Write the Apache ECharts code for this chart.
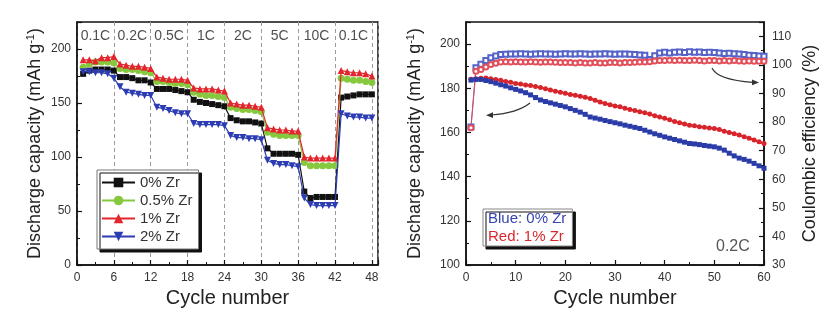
<!DOCTYPE html>
<html><head><meta charset="utf-8">
<script src="https://cdn.jsdelivr.net/npm/echarts@6/dist/echarts.min.js"></script>
<style>html,body{margin:0;padding:0;background:#fff}#c{width:834px;height:324px}</style>
</head><body><div id="c"></div>
<script>
const FONT = '"Liberation Sans", Arial, sans-serif';

// ---------- Left panel: rate capability ----------
const rateLabels = ['0.1C','0.2C','0.5C','1C','2C','5C','10C','0.1C'];
const rateLabelCycle = [3, 9, 15, 21, 27, 33, 39, 45];
const rateLabelLevel = 212;
const seriesNamesL = ['0% Zr', '0.5% Zr', '1% Zr', '2% Zr'];
const zr0 = [177,180,181,181,181,180, 174,174,173,171,171,169, 163,163,163,162,161,160,
             153,151,150,149,148,147, 136,134,133,133,132,131, 108,103,103,103,103,102,
             68,62,63,63,63,63, 155,156,157,158,158,158];
const zr05 = [183,186,188,188,188,187, 182,181,181,180,179,178, 170,170,169,168,168,167,
              160,158,157,157,156,155, 146,145,144,144,143,142, 123,121,120,120,120,120,
              95,92,92,92,92,92, 173,172,171,171,170,169];
const zr1 = [190,190,189,192,192,193, 186,185,184,184,183,182, 174,173,172,172,172,171,
             164,163,163,163,162,161, 150,149,148,148,147,146, 127,126,125,125,124,124,
             100,99,99,99,99,99, 180,179,178,178,177,175];
const zr2 = [179,179,178,178,177,173, 165,160,159,158,157,157, 146,145,143,141,140,140,
             131,130,130,130,130,129, 120,118,118,117,117,116, 97,94,93,93,92,91,
             62,56,55,55,55,55, 140,138,137,137,136,136];

// ---------- Right panel: cycling at 0.2C ----------
const capBlue = [183.7,184,184,183.5,183,182.3,181.6,181,180.2,179.5,178.8,178,177,175.8,174.7,174,173.4,172.8,172.2,171.6,
                 170.8,170,169.2,168.2,167,166.5,166,165.4,164.9,164.4,163.9,163.3,162.8,162.3,161.8,161,160.2,159.4,158.7,158,
                 157.4,156.8,156.2,155.6,155,154.8,154.5,154.1,153.8,153.5,152.9,152,150.6,149.4,148.4,147.8,147,146,144.9,143.8];
const capRed = [184.1,184.3,184.5,184.6,184.3,184,183.6,183.1,182.7,182.2,181.9,181.5,181.2,180.8,180.4,179.8,179.2,178.7,178.2,177.7,
                177.2,176.8,176.4,175.9,175.4,174.6,173.8,173.1,172.5,172,171.6,171,170.4,169.9,169.4,168.9,168.3,167.6,167,166.4,
                165.7,165,164.4,163.8,163.3,163,162.6,162.3,162,161.8,161.3,160.6,160,159.4,158.8,158.1,157.4,156.6,155.8,155];
const ceBlue = [78.3,99,100.2,101.5,102.5,103.1,103.6,103.7,103.8,103.8,103.9,103.8,103.7,103.8,103.9,103.8,103.8,103.7,103.8,103.9,
                103.8,103.8,103.9,103.8,103.7,103.8,103.8,103.9,103.8,103.7,103.8,103.8,103.7,103.6,103.5,103.4,101.9,103.2,104.2,104.4,
                104.2,104.4,104.5,104.3,104.6,104.4,104.5,104.3,104.4,104.3,104.2,104,104.1,103.9,103.8,103.6,103.4,103.3,103.1,103];
const ceRed = [78,97.8,98.4,99.3,100.1,100.6,101,101.1,101,101.1,101,101,101.1,101,100.9,101,101,100.9,100.8,100.8,
               100.8,100.7,100.8,100.7,100.7,100.8,100.7,100.7,100.8,100.8,100.7,100.8,100.8,100.9,101,101,101.1,101.4,101.5,101.5,
               101.6,101.5,101.6,101.5,101.5,101.6,101.5,101.4,101.5,101.5,101.4,101.5,101.4,101.5,101.4,101.3,101.4,101.3,101.3,101.3];

const colL = ['#111111', '#86c83e', '#e3262e', '#2c3db4'];
const symL = ['rect', 'circle', 'triangle', 'triangle'];
const rotL = [0, 0, 0, 180];
const sizeL = [6, 7, 7, 7];
const dataL = [zr0, zr05, zr1, zr2];

const BLUE = '#2b3ca8', RED = '#d8252b', BLUE_CE = '#5563c8', RED_CE = '#e24e5a';
const toXY = arr => arr.map((v, i) => [i + 1, v]);

const axisCommon = {
  axisLine: { show: true, onZero: false, lineStyle: { color: '#111', width: 1.5 } },
  axisTick: { show: true, inside: true, length: 5, lineStyle: { color: '#111', width: 1.2 } },
  minorTick: { show: true, splitNumber: 2, length: 3, lineStyle: { color: '#111', width: 1 } },
  axisLabel: { fontFamily: FONT, fontSize: 12, color: '#333', showMaxLabel: false },
  splitLine: { show: false },
  nameLocation: 'middle',
  nameTextStyle: { fontFamily: FONT, color: '#222', fontSize: 18 }
};
const yName = { a: { fontFamily: FONT, fontSize: 18, color: '#222' }, s: { fontFamily: FONT, fontSize: 11, color: '#222', verticalAlign: 'top', padding: [0, 0, 10, 0] } };

const series = [];
dataL.forEach((d, k) => series.push({
  name: seriesNamesL[k], type: 'line', xAxisIndex: 0, yAxisIndex: 0,
  data: toXY(d), symbol: symL[k], symbolRotate: rotL[k], symbolSize: sizeL[k],
  lineStyle: { color: colL[k], width: 1.2 }, itemStyle: { color: colL[k] }, z: 3 + k
}));
series.push({
  name: 'rates', type: 'scatter', xAxisIndex: 0, yAxisIndex: 0, symbolSize: 0, silent: true,
  data: rateLabels.map((t, i) => ({ name: t, value: [rateLabelCycle[i], rateLabelLevel] })),
  label: { show: true, position: 'inside', formatter: '{b}', fontFamily: FONT, fontSize: 14, color: '#222' }
});
series.push({
  name: 'CE 0% Zr', type: 'line', xAxisIndex: 1, yAxisIndex: 2, data: toXY(ceBlue),
  symbol: 'emptyRect', symbolSize: 5, lineStyle: { color: BLUE_CE, width: 1 }, itemStyle: { color: BLUE_CE, borderWidth: 1 }, z: 3
});
series.push({
  name: 'CE 1% Zr', type: 'line', xAxisIndex: 1, yAxisIndex: 2, data: toXY(ceRed),
  symbol: 'emptyCircle', symbolSize: 5, lineStyle: { color: RED_CE, width: 1 }, itemStyle: { color: RED_CE, borderWidth: 1 }, z: 3
});
series.push({
  name: 'Red: 1% Zr', type: 'line', xAxisIndex: 1, yAxisIndex: 1, data: toXY(capRed),
  symbol: 'circle', symbolSize: 5, lineStyle: { color: RED, width: 2 }, itemStyle: { color: RED }, z: 4
});
series.push({
  name: 'Blue: 0% Zr', type: 'line', xAxisIndex: 1, yAxisIndex: 1, data: toXY(capBlue),
  symbol: 'rect', symbolSize: 5, lineStyle: { color: BLUE, width: 2 }, itemStyle: { color: BLUE }, z: 4
});

const option = {
  animation: false,
  backgroundColor: '#fff',
  textStyle: { fontFamily: FONT },
  grid: [
    { left: 77, top: 22, width: 301, height: 243, show: true, borderColor: '#111', borderWidth: 1.5, backgroundColor: 'transparent' },
    { left: 466, top: 22, width: 298, height: 243, show: true, borderColor: '#111', borderWidth: 1.5, backgroundColor: 'transparent' }
  ],
  xAxis: [
    Object.assign({}, axisCommon, {
      gridIndex: 0, type: 'value', min: 0, max: 49, interval: 6,
      splitLine: { show: true, lineStyle: { color: '#9a9a9a', type: [4, 3], width: 1 } },
      axisLabel: Object.assign({}, axisCommon.axisLabel, { margin: 7 }),
      name: 'Cycle number', nameGap: 22, nameTextStyle: { fontFamily: FONT, color: '#222', fontSize: 20 }
    }),
    Object.assign({}, axisCommon, {
      gridIndex: 1, type: 'value', min: 0, max: 60, interval: 10,
      axisLabel: Object.assign({}, axisCommon.axisLabel, { margin: 7, showMaxLabel: true }),
      name: 'Cycle number', nameGap: 22, nameTextStyle: { fontFamily: FONT, color: '#222', fontSize: 20 }
    })
  ],
  yAxis: [
    Object.assign({}, axisCommon, {
      gridIndex: 0, type: 'value', min: 0, max: 225, interval: 50,
      axisLabel: Object.assign({}, axisCommon.axisLabel, { margin: 6 }),
      name: '{a|Discharge capacity (mAh g}{s|-1}{a|)}', nameGap: 31,
      nameTextStyle: { fontFamily: FONT, color: '#222', fontSize: 18, rich: yName }
    }),
    Object.assign({}, axisCommon, {
      gridIndex: 1, type: 'value', min: 100, max: 210, interval: 20,
      axisLabel: Object.assign({}, axisCommon.axisLabel, { margin: 6 }),
      name: '{a|Discharge capacity (mAh g}{s|-1}{a|)}', nameGap: 40,
      nameTextStyle: { fontFamily: FONT, color: '#222', fontSize: 18, rich: yName }
    }),
    Object.assign({}, axisCommon, {
      gridIndex: 1, type: 'value', position: 'right', min: 30, max: 115, interval: 10,
      axisLabel: Object.assign({}, axisCommon.axisLabel, { margin: 8 }),
      name: 'Coulombic efficiency (%)', nameGap: 37
    })
  ],
  legend: [
    {
      data: seriesNamesL, orient: 'vertical', left: 97, top: 170,
      itemWidth: 33, itemHeight: 12, itemGap: 3, padding: [5, 6, 5, 4],
      backgroundColor: '#fff', borderColor: '#777', borderWidth: 1,
      shadowColor: '#111', shadowOffsetX: 3, shadowOffsetY: 3, shadowBlur: 0,
      textStyle: { fontFamily: FONT, fontSize: 15, color: '#333' }, selectedMode: false
    },
    {
      data: [
        { name: 'Blue: 0% Zr', icon: 'none', textStyle: { color: '#3543b0' } },
        { name: 'Red: 1% Zr', icon: 'none', textStyle: { color: '#d8282e' } }
      ],
      orient: 'vertical', left: 483, top: 209, itemWidth: 0, itemHeight: 14, itemGap: 3,
      padding: [2, 6, 2, 0], backgroundColor: '#fff', borderColor: '#888', borderWidth: 1,
      shadowColor: '#111', shadowOffsetX: 3, shadowOffsetY: 3, shadowBlur: 0,
      textStyle: { fontFamily: FONT, fontSize: 15 }, selectedMode: false
    }
  ],
  graphic: [
    { type: 'text', left: 716, top: 239, style: { text: '0.2C', fontFamily: FONT, fontSize: 16, fill: '#555' } },
    { type: 'bezierCurve', shape: { x1: 530, y1: 103, cpx1: 520, cpy1: 111, cpx2: 505, cpy2: 114, x2: 491, y2: 115 }, style: { stroke: '#333', lineWidth: 1.2, fill: null } },
    { type: 'polygon', shape: { points: [[486, 115.3], [493, 112.3], [493, 118]] }, style: { fill: '#333' } },
    { type: 'bezierCurve', shape: { x1: 712, y1: 68, cpx1: 716, cpy1: 77, cpx2: 734, cpy2: 81, x2: 753, y2: 82.3 }, style: { stroke: '#333', lineWidth: 1.2, fill: null } },
    { type: 'polygon', shape: { points: [[759, 82.5], [752, 79.5], [752, 85.3]] }, style: { fill: '#333' } }
  ],
  series: series
};
const chart = echarts.init(document.getElementById('c'), null, { renderer: 'canvas' });
chart.setOption(option);
</script></body></html>
